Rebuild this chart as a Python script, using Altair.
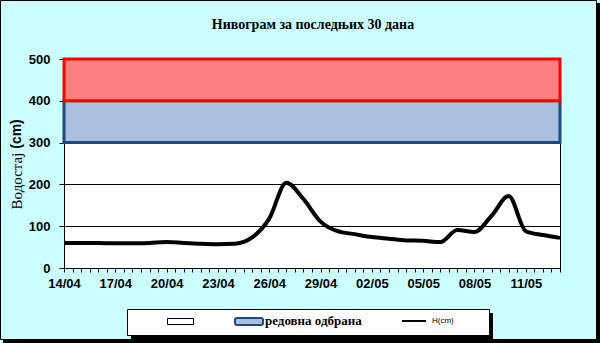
import altair as alt
import pandas as pd

# ---- data ----
days = list(range(30))  # day offset from 14/04
H_cm = [60, 60, 60, 59, 59, 60, 62, 60, 58, 57,
        58, 73, 118, 204, 165, 111, 88, 81, 74, 70,
        66, 65, 62, 91, 86, 125, 172, 88, 79, 72]
x_labels = ["14/04", "17/04", "20/04", "23/04", "26/04",
            "29/04", "02/05", "05/05", "08/05", "11/05"]
y_ticks = [0, 100, 200, 300, 400, 500]
band_blue = [300, 400]
band_red = [400, 500]
title_text = "Нивограм за последњих 30 дана"
ytitle_a = "Водостај"
ytitle_b = "(cm)"
legend_labels = ["редовна одбрана", "H(cm)"]

df = pd.DataFrame({"day": days, "H": H_cm})
one = pd.DataFrame({"k": [0]})

W, Hh = 496, 209

xscale = alt.Scale(domain=[0, 29], nice=False, zero=False)
yscale = alt.Scale(domain=[0, 500], nice=False)

tick_vals = [i * 0.5 for i in range(59)]
arr = "[" + ",".join("'%s'" % s for s in x_labels) + "]"
label_expr = "datum.value % 3 == 0 ? " + arr + "[datum.value / 3] : ''"

xaxis = alt.Axis(values=tick_vals, labelExpr=label_expr, tickSize=4, tickColor="black",
                 domainColor="black", grid=False, labelFont="Liberation Sans",
                 labelFontWeight="bold", labelFontSize=13, labelColor="black",
                 labelPadding=5, labelFlush=False, labelOverlap=False, title=None,
                 labelBaseline="top")
yaxis = alt.Axis(values=y_ticks, grid=True, gridColor="black", gridWidth=1, gridOpacity=1,
                 tickSize=5, tickColor="black", domainColor="black",
                 labelFont="Liberation Sans", labelFontWeight="bold", labelFontSize=13,
                 labelColor="black", labelPadding=9, title=None)

# bands
blue = alt.Chart(pd.DataFrame({"lo": [band_blue[0]], "hi": [band_blue[1]]})).mark_rect(
    fill="#A9BFDD", stroke="#1F497D", strokeWidth=3
).encode(x=alt.value(0), x2=alt.value(W),
         y=alt.Y("lo:Q", scale=yscale, axis=yaxis), y2="hi:Q")
red = alt.Chart(pd.DataFrame({"lo": [band_red[0]], "hi": [band_red[1]]})).mark_rect(
    fill="#FF8080", stroke="#FF0000", strokeWidth=3
).encode(x=alt.value(0), x2=alt.value(W),
         y=alt.Y("lo:Q", scale=yscale, axis=yaxis), y2="hi:Q")

line = alt.Chart(df).mark_line(color="black", strokeWidth=4, interpolate="monotone").encode(
    x=alt.X("day:Q", scale=xscale, axis=xaxis),
    y=alt.Y("H:Q", scale=yscale, axis=yaxis),
)

# outer frame
frame = alt.Chart(one).mark_rect(fill=None, stroke="black", strokeWidth=1).encode(
    x=alt.value(-63.5), x2=alt.value(532.5), y=alt.value(-58.5), y2=alt.value(280.5))
shadow_r = alt.Chart(one).mark_rect(fill="black").encode(
    x=alt.value(533), x2=alt.value(536), y=alt.value(-56), y2=alt.value(284))
shadow_b = alt.Chart(one).mark_rect(fill="black").encode(
    x=alt.value(-61), x2=alt.value(536), y=alt.value(281), y2=alt.value(284))

title = alt.Chart(one).mark_text(text=title_text, font="Liberation Serif", fontSize=14,
                                 fontWeight="bold", color="black", align="center",
                                 baseline="middle").encode(
    x=alt.value(249), y=alt.value(-34))
yt_a = alt.Chart(one).mark_text(text=ytitle_a, font="Liberation Serif", fontSize=15,
                                color="black", angle=270, align="center",
                                baseline="middle").encode(
    x=alt.value(-47), y=alt.value(122))
yt_b = alt.Chart(one).mark_text(text=ytitle_b, font="Liberation Sans", fontSize=14,
                                fontWeight="bold", color="black", angle=270, align="center",
                                baseline="middle").encode(
    x=alt.value(-47), y=alt.value(75))

# legend
leg_shadow = alt.Chart(one).mark_rect(fill="black").encode(
    x=alt.value(67), x2=alt.value(429), y=alt.value(254), y2=alt.value(280))
leg_box = alt.Chart(one).mark_rect(fill="white", stroke="black", strokeWidth=1).encode(
    x=alt.value(63.5), x2=alt.value(425.5), y=alt.value(250.5), y2=alt.value(276.5))
leg_white = alt.Chart(one).mark_rect(fill="white", stroke="black", strokeWidth=1).encode(
    x=alt.value(103.5), x2=alt.value(129.5), y=alt.value(259.5), y2=alt.value(265.5))
leg_blue = alt.Chart(one).mark_rect(fill="#A9BFDD", stroke="#1F497D", strokeWidth=2,
                                    cornerRadius=2).encode(
    x=alt.value(171), x2=alt.value(199), y=alt.value(259), y2=alt.value(266))
leg_t1 = alt.Chart(one).mark_text(text=legend_labels[0], font="Liberation Serif", fontSize=13,
                                  fontWeight="bold", color="black", align="left",
                                  baseline="middle").encode(
    x=alt.value(201), y=alt.value(262))
leg_line = alt.Chart(one).mark_rule(color="black", strokeWidth=2).encode(
    x=alt.value(338), x2=alt.value(362), y=alt.value(262))
leg_t2 = alt.Chart(one).mark_text(text=legend_labels[1], font="Liberation Sans", fontSize=8,
                                  color="black", align="left", baseline="middle").encode(
    x=alt.value(368), y=alt.value(262))

chart = alt.layer(
    blue, red, line, frame, shadow_r, shadow_b, title, yt_a, yt_b,
    leg_shadow, leg_box, leg_white, leg_blue, leg_t1, leg_line, leg_t2
).properties(
    width=W, height=Hh,
    autosize=alt.AutoSizeParams(type="none"),
    padding={"left": 64, "top": 59, "right": 40, "bottom": 75},
    background="#CCFFFF",
).configure_view(stroke="black", strokeWidth=1, fill="white")

chart.save("out.html", embed_options={"renderer": "svg", "actions": False})
